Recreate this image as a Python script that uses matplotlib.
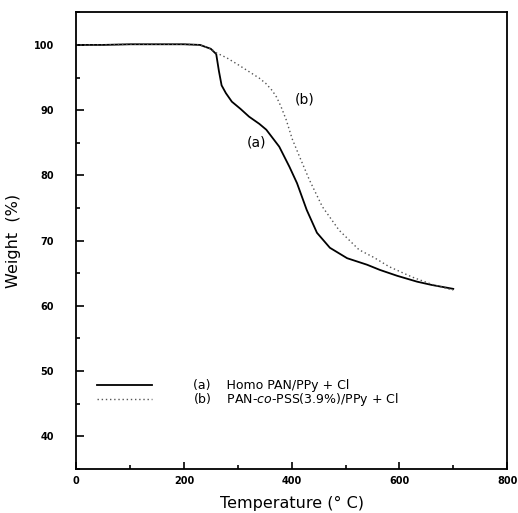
import matplotlib
matplotlib.use("Agg")
import matplotlib.pyplot as plt
from matplotlib.ticker import MultipleLocator

# TGA curves
temp_a = [0, 50, 100, 150, 200, 230, 250, 260, 265, 270, 278, 289, 305, 321,
          340, 353, 377, 396, 410, 428, 447, 471, 503, 540, 564, 596, 633, 660, 700]
weight_a = [100.0, 100.0, 100.1, 100.1, 100.1, 100.0, 99.4, 98.6, 96.0, 93.8, 92.6, 91.3, 90.2, 89.0,
            87.9, 87.0, 84.4, 81.3, 78.8, 74.7, 71.2, 68.9, 67.3, 66.3, 65.5, 64.6, 63.7, 63.2, 62.6]

temp_b = [0, 50, 100, 150, 200, 230, 250, 260, 280, 300, 321, 340, 352, 364, 372, 380, 390,
          401, 414, 433, 457, 488, 525, 553, 581, 624, 660, 700]
weight_b = [100.0, 100.0, 100.1, 100.1, 100.1, 100.0, 99.4, 98.8, 98.0, 97.0, 95.9, 94.9, 94.1, 93.0, 92.0, 90.6, 88.5,
            85.6, 83.0, 79.3, 75.2, 71.6, 68.6, 67.4, 66.0, 64.4, 63.3, 62.4]

x_ticks = [0, 200, 400, 600, 800]
y_ticks = [40, 50, 60, 70, 80, 90, 100]
label_a = "(a)    Homo PAN/PPy + Cl"
label_b = "(b)    PAN-$\\it{co}$-PSS(3.9%)/PPy + Cl"

fig = plt.figure(figsize=(5.18, 5.13), dpi=100)
ax = fig.add_axes([0.147, 0.086, 0.832, 0.89])

ax.plot(temp_a, weight_a, color="black", lw=1.3, label=label_a)
ax.plot(temp_b, weight_b, color="#555555", lw=1.0, ls=(0, (1, 2)), label=label_b)

ax.set_xlim(0, 800)
ax.set_ylim(35, 105)
ax.set_xticks(x_ticks)
ax.set_yticks(y_ticks)
ax.xaxis.set_minor_locator(MultipleLocator(100))
ax.yaxis.set_minor_locator(MultipleLocator(5))
ax.tick_params(which="both", direction="in", width=1.2)
ax.tick_params(axis="y", which="major", length=6, pad=16, labelsize=7)
ax.tick_params(axis="y", which="minor", length=3)
ax.tick_params(axis="x", which="major", length=5, pad=5, labelsize=7)
ax.tick_params(axis="x", which="minor", length=3)
for lab in ax.get_xticklabels() + ax.get_yticklabels():
    lab.set_fontweight("bold")
for s in ax.spines.values():
    s.set_linewidth(1.3)

ax.text(335, 85.0, "(a)", fontsize=10, ha="center", va="center")
ax.text(425, 91.7, "(b)", fontsize=10, ha="center", va="center")

ax.set_xlabel("Temperature (° C)", fontsize=11.5, labelpad=7)
ax.set_ylabel("Weight  (%)", fontsize=11.5, labelpad=9)

ax.legend(loc="center left", bbox_to_anchor=(0.022, 0.165), frameon=False,
          fontsize=9, handlelength=4.4, handletextpad=3.3, labelspacing=-0.1)

fig.savefig("out.png", dpi=100)
